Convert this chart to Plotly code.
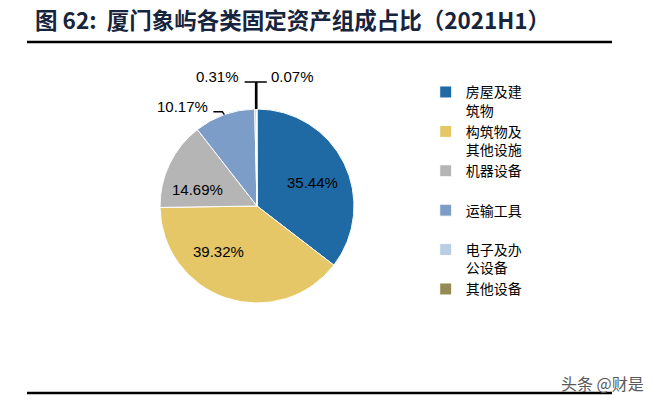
import math
import plotly.graph_objects as go

categories = ["房屋及建<br>筑物", "构筑物及<br>其他设施", "机器设备<br> ", "运输工具<br> ", "电子及办<br>公设备", "其他设备"]
values = [35.44, 39.32, 14.69, 10.17, 0.31, 0.07]
colors = ["#1F6AA5", "#E5C767", "#B5B5B5", "#7D9DC9", "#B9CDE5", "#948A54"]

W, H = 659, 402
cx, cy, r = 257, 206, 97
# style: label angle shift (deg) and radial distance (px) for inside labels
inside_shift = [3, 22, -10.6]
inside_dist = [60, 60, 62]

fig = go.Figure()
fig.add_trace(go.Pie(
    labels=categories, values=values, sort=False, direction="clockwise", rotation=0,
    marker=dict(colors=colors, line=dict(color="white", width=1)),
    textinfo="none",
    domain=dict(x=[(cx - r) / W, (cx + r) / W], y=[(H - cy - r) / H, (H - cy + r) / H]),
    hoverinfo="skip",
))


def px(x, y):
    return x / W, 1 - y / H


total = sum(values)
cum = 0.0
mids = []
for v in values:
    mids.append(2 * math.pi * (cum + v / 2) / total)
    cum += v
edge = [(cx + r * math.sin(t), cy - r * math.cos(t)) for t in mids]

shapes = [
    dict(type="line", xref="paper", yref="paper", x0=27 / W, x1=612 / W,
         y0=1 - 42 / H, y1=1 - 42 / H, line=dict(color="black", width=2.5)),
    dict(type="line", xref="paper", yref="paper", x0=27 / W, x1=612 / W,
         y0=1 - 393 / H, y1=1 - 393 / H, line=dict(color="black", width=2.5)),
]
annotations = [
    dict(text="头条 @财是", xref="paper", yref="paper", x=646 / W, y=1 - 383 / H,
         xanchor="right", yanchor="middle", showarrow=False,
         font=dict(family="Noto Sans CJK SC", size=16, color="#595959")),
]
lab_font = dict(family="Liberation Sans Narrow, Liberation Sans", size=15, color="black")

for i in range(3):
    t = mids[i] + math.radians(inside_shift[i])
    x, y = px(cx + inside_dist[i] * math.sin(t), cy - inside_dist[i] * math.cos(t))
    annotations.append(dict(text=f"{values[i]:.2f}%", xref="paper", yref="paper", x=x, y=y,
                            xanchor="center", yanchor="middle", showarrow=False, font=lab_font))


def add_leader(pts):
    path = "M " + " L ".join(f"{x / W:.5f},{1 - y / H:.5f}" for x, y in pts)
    shapes.append(dict(type="path", xref="paper", yref="paper", path=path,
                       line=dict(color="black", width=1.5)))


# 运输工具 label (left)
ex, ey = edge[3]
add_leader([(ex, ey), (ex - 2, ey - 3), (ex - 11, ey - 3)])
x, y = px(ex - 14, ey - 8)
annotations.append(dict(text=f"{values[3]:.2f}%", xref="paper", yref="paper", x=x, y=y,
                        xanchor="right", yanchor="middle", showarrow=False, font=lab_font))
# 电子及办公设备 label (top-left) and 其他设备 label (top-right)
top_y = 82
ex, ey = edge[4]
add_leader([(ex, ey), (ex, top_y), (ex - 11, top_y)])
x, y = px(ex - 15, top_y - 5)
annotations.append(dict(text=f"{values[4]:.2f}%", xref="paper", yref="paper", x=x, y=y,
                        xanchor="right", yanchor="middle", showarrow=False, font=lab_font))
ex, ey = edge[5]
add_leader([(ex, ey), (ex, top_y), (ex + 10, top_y)])
x, y = px(ex + 12, top_y - 5)
annotations.append(dict(text=f"{values[5]:.2f}%", xref="paper", yref="paper", x=x, y=y,
                        xanchor="left", yanchor="middle", showarrow=False, font=lab_font))

fig.update_layout(
    width=W, height=H, margin=dict(l=0, r=0, t=0, b=0),
    paper_bgcolor="white", plot_bgcolor="white",
    showlegend=True,
    legend=dict(x=0.646, y=0.81, xanchor="left", yanchor="top", valign="top",
                font=dict(family="Noto Sans CJK SC", size=14, color="black"),
                itemclick=False, tracegroupgap=0),
    title=dict(text="<b>图 62:  厦门象屿各类固定资产组成占比（2021H1）</b>",
               x=35 / W, xanchor="left", y=1 - 21 / H, yanchor="middle",
               font=dict(family="Noto Sans CJK SC", size=22.5, color="#17243D")),
    shapes=shapes,
    annotations=annotations,
)

fig.write_html("out.html", config={"displayModeBar": False},
               post_script="document.body.style.margin='0';")
